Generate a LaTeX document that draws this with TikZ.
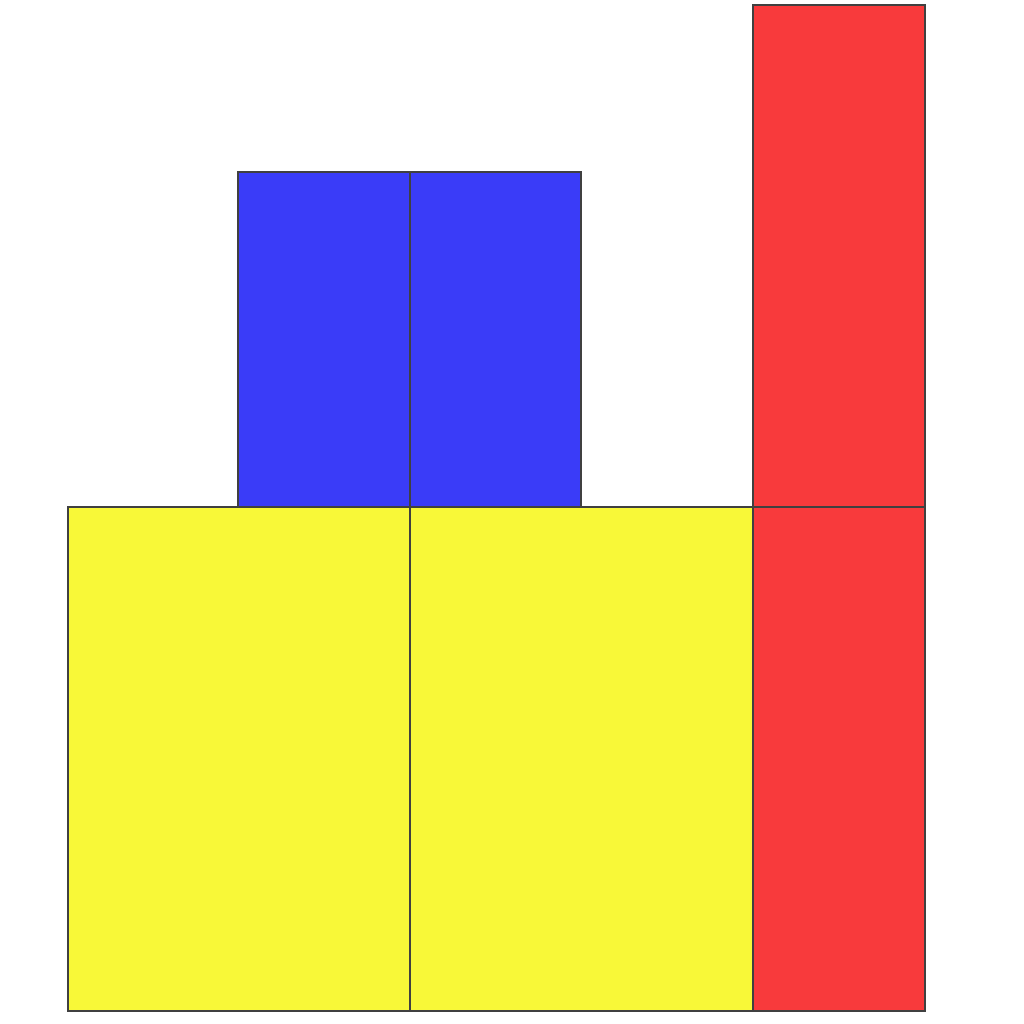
\documentclass[tikz,border=0pt]{standalone}
\usepackage{tikz}
\usepackage{xcolor}
\definecolor{blockyellow}{HTML}{F8F838}
\definecolor{blockblue}{HTML}{3A3CF8}
\definecolor{blockred}{HTML}{F83A3C}
\tikzset{block/.style={draw=black!75, line width=0.5pt}}

\begin{document}
\begin{tikzpicture}[scale=1]
        \useasboundingbox (0,0) rectangle (10.24,10.24);
        % bottom row
        \filldraw[block, fill=blockyellow] (0.68,0.13) -- (4.10,0.13) -- (4.10,5.17) -- (0.68,5.17) -- cycle;
        \filldraw[block, fill=blockyellow] (4.10,0.13) -- (7.53,0.13) -- (7.53,5.17) -- (4.10,5.17) -- cycle;
        \filldraw[block, fill=blockred] (7.53,0.13) -- (9.25,0.13) -- (9.25,5.17) -- (7.53,5.17) -- cycle;

        % top row
        \filldraw[block, fill=blockblue] (2.38,5.17) -- (4.10,5.17) -- (4.10,8.52) -- (2.38,8.52) -- cycle;
        \filldraw[block, fill=blockblue] (4.10,5.17) -- (5.81,5.17) -- (5.81,8.52) -- (4.10,8.52) -- cycle;
        \filldraw[block, fill=blockred] (7.53,5.17) -- (9.25,5.17) -- (9.25,10.19) -- (7.53,10.19) -- cycle;
    \end{tikzpicture}
\end{document}
